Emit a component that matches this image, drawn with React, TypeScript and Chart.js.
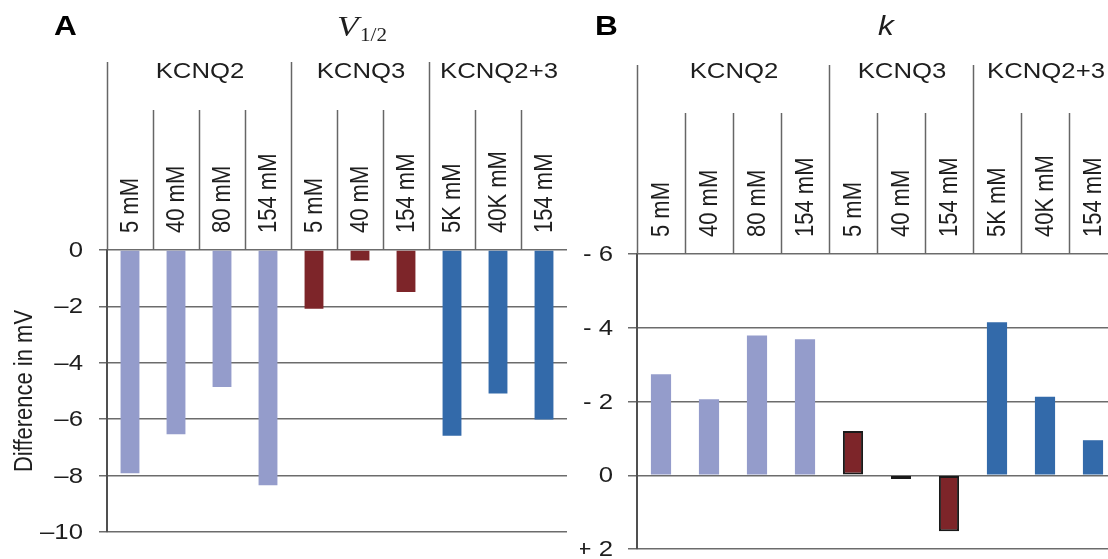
import React, { useEffect, useRef } from 'react';
import { Chart, registerables } from 'chart.js';

Chart.register(...registerables);

// ---------- data ----------
const categories = ['5 mM', '40 mM', '80 mM', '154 mM', '5 mM', '40 mM', '154 mM', '5K mM', '40K mM', '154 mM'];
const groupLabels = ['KCNQ2', 'KCNQ3', 'KCNQ2+3'];
const groupSizes = [4, 3, 3];
const v12Values = [-7.92, -6.53, -4.86, -8.34, -2.08, -0.37, -1.49, -6.59, -5.09, -6.01];
const kValues = [-2.74, -2.06, -3.79, -3.69, -1.2, 0.1, 1.52, -4.15, -2.13, -0.95];
const v12Ticks = [0, -2, -4, -6, -8, -10];
const kTicks = [-6, -4, -2, 0, 2];
const groupColors = ['#949ccb', '#7d2529', '#336aaa'];

const SANS = '"Liberation Sans", Arial, sans-serif';
const SERIF = '"Liberation Serif", "Times New Roman", serif';
const TEXT = '#1e1e1e';
const GRID = '#6c6c6c';
const SX = 1.17; // horizontal stretch of the reference's lettering

const groupIndex: number[] = [];
groupSizes.forEach((n, g) => { for (let i = 0; i < n; i++) groupIndex.push(g); });
const barColors = groupIndex.map((g) => groupColors[g]);

function text(
  ctx: CanvasRenderingContext2D,
  s: string,
  x: number,
  y: number,
  font: string,
  align: CanvasTextAlign,
  baseline: CanvasTextBaseline,
  color = TEXT
) {
  ctx.save();
  ctx.translate(x, y);
  ctx.scale(SX, 1);
  ctx.font = font;
  ctx.textAlign = align;
  ctx.textBaseline = baseline;
  ctx.fillStyle = color;
  ctx.fillText(s, 0, 0);
  ctx.restore();
}

function vtext(
  ctx: CanvasRenderingContext2D,
  s: string,
  x: number,
  y: number,
  font: string,
  align: CanvasTextAlign
) {
  ctx.save();
  ctx.translate(x, y);
  ctx.rotate(-Math.PI / 2);
  ctx.scale(1, SX);
  ctx.font = font;
  ctx.textAlign = align;
  ctx.textBaseline = 'middle';
  ctx.fillStyle = TEXT;
  ctx.fillText(s, 0, 0);
  ctx.restore();
}

type HeaderOpts = {
  groupTop: number;
  subTop: number;
  groupLabelY: number;
  labelGap: number;
  ticks: number[];
  tickLength: number;
  tickPad: number;
  tickFmt: (v: number) => string;
  yTitle?: string;
  yTitleX?: number;
  drawTitle: (ctx: CanvasRenderingContext2D) => void;
};

function headerPlugin(id: string, o: HeaderOpts) {
  return {
    id,
    afterDraw(chart: any) {
      const { ctx, chartArea, scales } = chart;
      const x = scales.x;
      const y = scales.y;
      const top = chartArea.top;
      const edge = (i: number) => x.getPixelForValue(i - 0.5);
      ctx.save();
      ctx.strokeStyle = '#666';
      ctx.lineWidth = 1.5;
      let idx = 0;
      const groupStarts: number[] = [];
      groupSizes.forEach((n) => { groupStarts.push(idx); idx += n; });
      for (let i = 0; i < categories.length; i++) {
        const isGroupStart = groupStarts.includes(i);
        const xe = Math.round(edge(i)) + 0.5;
        ctx.beginPath();
        ctx.moveTo(xe, isGroupStart ? o.groupTop : o.subTop);
        ctx.lineTo(xe, top);
        ctx.stroke();
      }
      const font = `22px ${SANS}`;
      // group labels
      groupSizes.forEach((n, g) => {
        const s = groupStarts[g];
        const left = edge(s);
        const right = Math.min(edge(s + n), chart.width);
        text(ctx, groupLabels[g], (left + right) / 2 + 1, o.groupLabelY, font, 'center', 'middle');
      });
      // category labels (rotated)
      categories.forEach((c, i) => {
        vtext(ctx, c, x.getPixelForValue(i) + 1, top - o.labelGap, font, 'left');
      });
      // y tick labels
      o.ticks.forEach((v) => {
        text(
          ctx,
          o.tickFmt(v),
          chartArea.left - o.tickLength - o.tickPad,
          y.getPixelForValue(v) + 1,
          font,
          'right',
          'middle'
        );
      });
      if (o.yTitle) {
        vtext(ctx, o.yTitle, o.yTitleX as number, (chartArea.top + chartArea.bottom) / 2, font, 'center');
      }
      o.drawTitle(ctx);
      ctx.restore();
    },
  };
}

function makeConfig(values: number[], ticksArr: number[], opts: any, plugin: any, isK: boolean): any {
  return {
    type: 'bar',
    data: {
      labels: categories,
      datasets: [
        {
          data: values,
          backgroundColor: barColors,
          borderColor: groupIndex.map((g) => (isK && g === 1 ? '#1a1a1a' : 'rgba(0,0,0,0)')),
          borderWidth: groupIndex.map((g) => (isK && g === 1 ? 2 : 0)),
          borderSkipped: false,
          categoryPercentage: 1,
          barPercentage: opts.barPct,
        },
      ],
    },
    options: {
      responsive: false,
      animation: false,
      devicePixelRatio: 1,
      layout: { padding: opts.padding },
      plugins: { legend: { display: false }, tooltip: { enabled: false } },
      scales: {
        x: { display: false },
        y: {
          min: opts.min,
          max: opts.max,
          reverse: !!opts.reverse,
          afterBuildTicks: (s: any) => { s.ticks = ticksArr.map((v) => ({ value: v })); },
          afterFit: (s: any) => { s.width = opts.yWidth; },
          grid: { color: GRID, lineWidth: 1.5, tickLength: opts.tickLength, drawTicks: true },
          border: { color: '#505050', width: 2 },
          ticks: { display: false },
          title: { display: false },
        },
      },
    },
    plugins: [plugin],
  };
}

export default function App() {
  const refA = useRef<HTMLCanvasElement>(null);
  const refB = useRef<HTMLCanvasElement>(null);

  useEffect(() => {
    const pA = headerPlugin('headerA', {
      groupTop: 62,
      subTop: 110,
      groupLabelY: 72,
      labelGap: 17,
      ticks: v12Ticks,
      tickLength: 8,
      tickPad: 16,
      tickFmt: (v) => (v < 0 ? '\u2013' + -v : String(v)),
      yTitle: 'Difference in mV',
      yTitleX: 25,
      drawTitle: (ctx) => {
        text(ctx, 'A', 54, 35, `bold 27px ${SANS}`, 'left', 'alphabetic', '#000');
        text(ctx, 'V', 337, 36, `italic 30px ${SERIF}`, 'left', 'alphabetic');
        text(ctx, '1/2', 360, 41, `18px ${SERIF}`, 'left', 'alphabetic');
      },
    });
    const pB = headerPlugin('headerB', {
      groupTop: 65,
      subTop: 113,
      groupLabelY: 72,
      labelGap: 17,
      ticks: kTicks,
      tickLength: 9,
      tickPad: 15,
      tickFmt: (v) => (v < 0 ? '- ' + -v : v > 0 ? '+ ' + v : '0'),
      drawTitle: (ctx) => {
        text(ctx, 'B', 15, 35, `bold 27px ${SANS}`, 'left', 'alphabetic', '#000');
        text(ctx, 'k', 298, 35, `italic 27px ${SANS}`, 'left', 'alphabetic');
      },
    });
    const a = new Chart(
      refA.current as HTMLCanvasElement,
      makeConfig(
        v12Values,
        v12Ticks,
        {
          barPct: 0.41,
          padding: { top: 250, left: 8, right: 0, bottom: 27 },
          min: -10,
          max: 0,
          yWidth: 99,
          tickLength: 8,
        },
        pA,
        false
      )
    );
    const b = new Chart(
      refB.current as HTMLCanvasElement,
      makeConfig(
        kValues,
        kTicks,
        {
          barPct: 0.42,
          padding: { top: 254, left: 0, right: 0, bottom: 10 },
          min: -6,
          max: 2,
          reverse: true,
          yWidth: 57,
          tickLength: 9,
        },
        pB,
        true
      )
    );
    return () => {
      a.destroy();
      b.destroy();
    };
  }, []);

  return (
    <div
      style={{
        position: 'absolute',
        left: 0,
        top: 0,
        width: 1108,
        height: 559,
        overflow: 'hidden',
        background: '#fff',
      }}
    >
      <canvas ref={refA} width={567} height={559} style={{ position: 'absolute', left: 0, top: 0 }} />
      <canvas ref={refB} width={537} height={559} style={{ position: 'absolute', left: 580, top: 0 }} />
    </div>
  );
}
